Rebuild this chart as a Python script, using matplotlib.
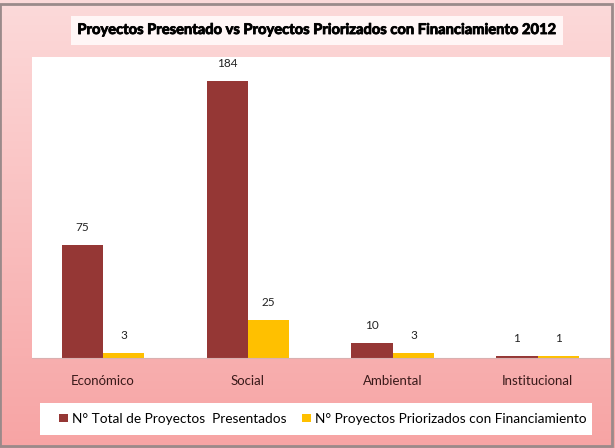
import numpy as np
import matplotlib
matplotlib.use('Agg')
import matplotlib.pyplot as plt
import matplotlib.patheffects as pe
from matplotlib.patches import Rectangle

categorias = ['Económico', 'Social', 'Ambiental', 'Institucional']
presentados = [75, 184, 10, 1]
priorizados = [3, 25, 3, 1]
series = ['N° Total de Proyectos  Presentados', 'N° Proyectos Priorizados con Financiamiento']
titulo = 'Proyectos Presentado vs Proyectos Priorizados con Financiamiento 2012'

plt.rcParams['font.family'] = ['Lato', 'DejaVu Sans']

fig = plt.figure(figsize=(6.15, 4.48), dpi=100)

# fondo rosado con degradado
bg = fig.add_axes([0, 0, 1, 1], zorder=-10)
grad = np.linspace(0, 1, 256).reshape(-1, 1)
cmap = matplotlib.colors.LinearSegmentedColormap.from_list('pk', ['#fcdada', '#f7a4a4'])
bg.imshow(grad, aspect='auto', cmap=cmap, extent=[0, 1, 0, 1], origin='upper')
bg.set_xlim(0, 1)
bg.set_ylim(0, 1)
bg.axis('off')
bg.add_patch(Rectangle((0.0, 0.005), 0.995, 0.985, fill=False, ec='#9a8a8a', lw=2))
# caja del titulo
bg.add_patch(Rectangle((0.115, 0.9), 0.80, 0.065, fc='#fff6f6', ec='none'))
# caja de la leyenda
bg.add_patch(Rectangle((0.065, 0.029), 0.898, 0.072, fc='white', ec='none'))

ax = fig.add_axes([0.052, 0.201, 0.940, 0.672])
ax.set_facecolor('white')
x = np.arange(len(categorias))
w = 0.285
b1 = ax.bar(x - w / 2, presentados, w, color='#953735', label=series[0])
b2 = ax.bar(x + w / 2, priorizados, w, color='#ffc000', label=series[1])
for bars in (b1, b2):
    for r in bars:
        ax.text(r.get_x() + r.get_width() / 2, r.get_height() + 8, str(int(r.get_height())),
                ha='center', va='bottom', fontsize=8.5, color='#222222')

ax.set_xlim(-0.49, 3.5)
ax.set_ylim(0, 200)
ax.set_yticks([])
ax.set_xticks(x)
ax.set_xticklabels(categorias, fontsize=9.5, color='#3a1a1a')
ax.tick_params(axis='x', length=0, pad=12)
for s in ['top', 'right', 'left']:
    ax.spines[s].set_visible(False)
ax.spines['bottom'].set_color('#d9b0b0')

t = fig.text(0.517, 0.933, titulo, ha='center', va='center', fontsize=10.6, fontweight='bold')
t.set_path_effects([pe.withStroke(linewidth=0.6, foreground='black')])

fig.legend(handles=[b1, b2], loc='center', bbox_to_anchor=(0.525, 0.065), ncol=2,
           frameon=False, fontsize=9.8, handlelength=0.6, handleheight=0.6,
           handletextpad=0.3, columnspacing=1.2)

fig.savefig('out.png', dpi=100)
